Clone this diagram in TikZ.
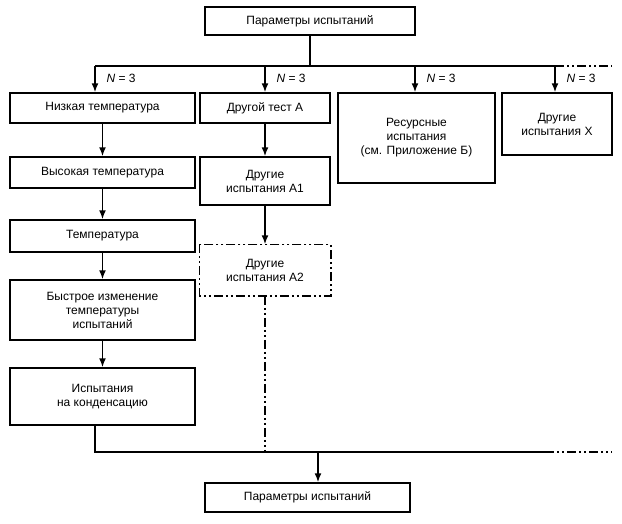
\documentclass[tikz,border=0pt]{standalone}
\usepackage{fontspec}
\setmainfont{Liberation Sans}
\usetikzlibrary{arrows.meta}
\begin{document}
\begin{tikzpicture}[x=1pt,y=-1pt,font=\fontsize{12}{14}\selectfont,
  box/.style={draw,line width=1.5pt,align=center,inner sep=0pt},
  ln/.style={line width=1.5pt},
  ar/.style={ln,-{Latex[length=9pt,width=7pt]}},
  dd/.style={line width=1.5pt,dash pattern=on 9pt off 3pt on 2pt off 3pt on 2pt off 3pt},
  lab/.style={anchor=west,font=\fontsize{12}{14}\selectfont}]
\useasboundingbox (0,0) rectangle (622,523);
\newcommand\bx[6]{\node[box,#6,minimum width=#3-#1,minimum height=#4-#2] (#5) at ({(#1+#3)/2},{(#2+#4)/2}) {};}
\bx{205}{7}{415}{35}{top}{} \node at (top) {Параметры испытаний};
\bx{10}{93}{195}{123}{a1}{} \node at (a1) {Низкая температура};
\bx{10}{157}{195}{188}{a2}{} \node at (a2) {Высокая температура};
\bx{10}{220}{195}{252}{a3}{} \node at (a3) {Температура};
\bx{10}{280}{195}{340}{a4}{} \node[align=center] at (a4) {Быстрое изменение\\температуры\\испытаний};
\bx{10}{368}{195}{425}{a5}{} \node[align=center] at (a5) {Испытания\\на конденсацию};
\bx{200}{93}{330}{123}{b1}{} \node at (b1) {Другой тест А};
\bx{200}{157}{330}{205}{b2}{} \node[align=center] at (b2) {Другие\\испытания А1};
\bx{200}{245}{330}{295}{b3}{draw=none} \node[align=center] at (b3) {Другие\\испытания А2};
\draw[dd] (b3.north west) rectangle (b3.south east);
\bx{338}{93}{495}{183}{c1}{} \node[align=center] at (c1) {Ресурсные\\испытания\\(см. Приложение Б)};
\bx{502}{93}{612}{155}{d1}{} \node[align=center] at (d1) {Другие\\испытания Х};
\bx{205}{483}{410}{512}{bot}{} \node at (bot) {Параметры испытаний};
\coordinate (h1) at (95,66); \coordinate (h2) at (265,66); \coordinate (h3) at (415,66);
\coordinate (h4) at (555,66); \coordinate (h5) at (612,66); \coordinate (hc) at (310,66);
\draw[ln] (top.south) -- (hc);
\draw[ln] (h1) -- (h4);
\draw[dd] (h4) -- (h5);
\foreach \h/\t in {h1/a1,h2/b1,h3/c1,h4/d1}{\draw[ar] (\h) -- (\h|-\t.north);}
\foreach \x in {95,265,415,555}{\node[lab] at (\x+8,78) {\textit{N} = 3};}
\draw[ar] (a1) -- (a2); \draw[ar] (a2) -- (a3); \draw[ar] (a3) -- (a4); \draw[ar] (a4) -- (a5);
\draw[ar] (b1) -- (b2); \draw[ar] (b2) -- (b3);
\coordinate (l1) at (95,452); \coordinate (l2) at (265,452); \coordinate (l3) at (545,452);
\coordinate (l4) at (612,452); \coordinate (lc) at (318,452);
\draw[ln] (a5.south-|l1) -- (l1) -- (l3);
\draw[dd] (l3) -- (l4);
\draw[dd] (b3.south) -- (l2);
\draw[ar] (lc) -- (lc|-bot.north);
\end{tikzpicture}
\end{document}
